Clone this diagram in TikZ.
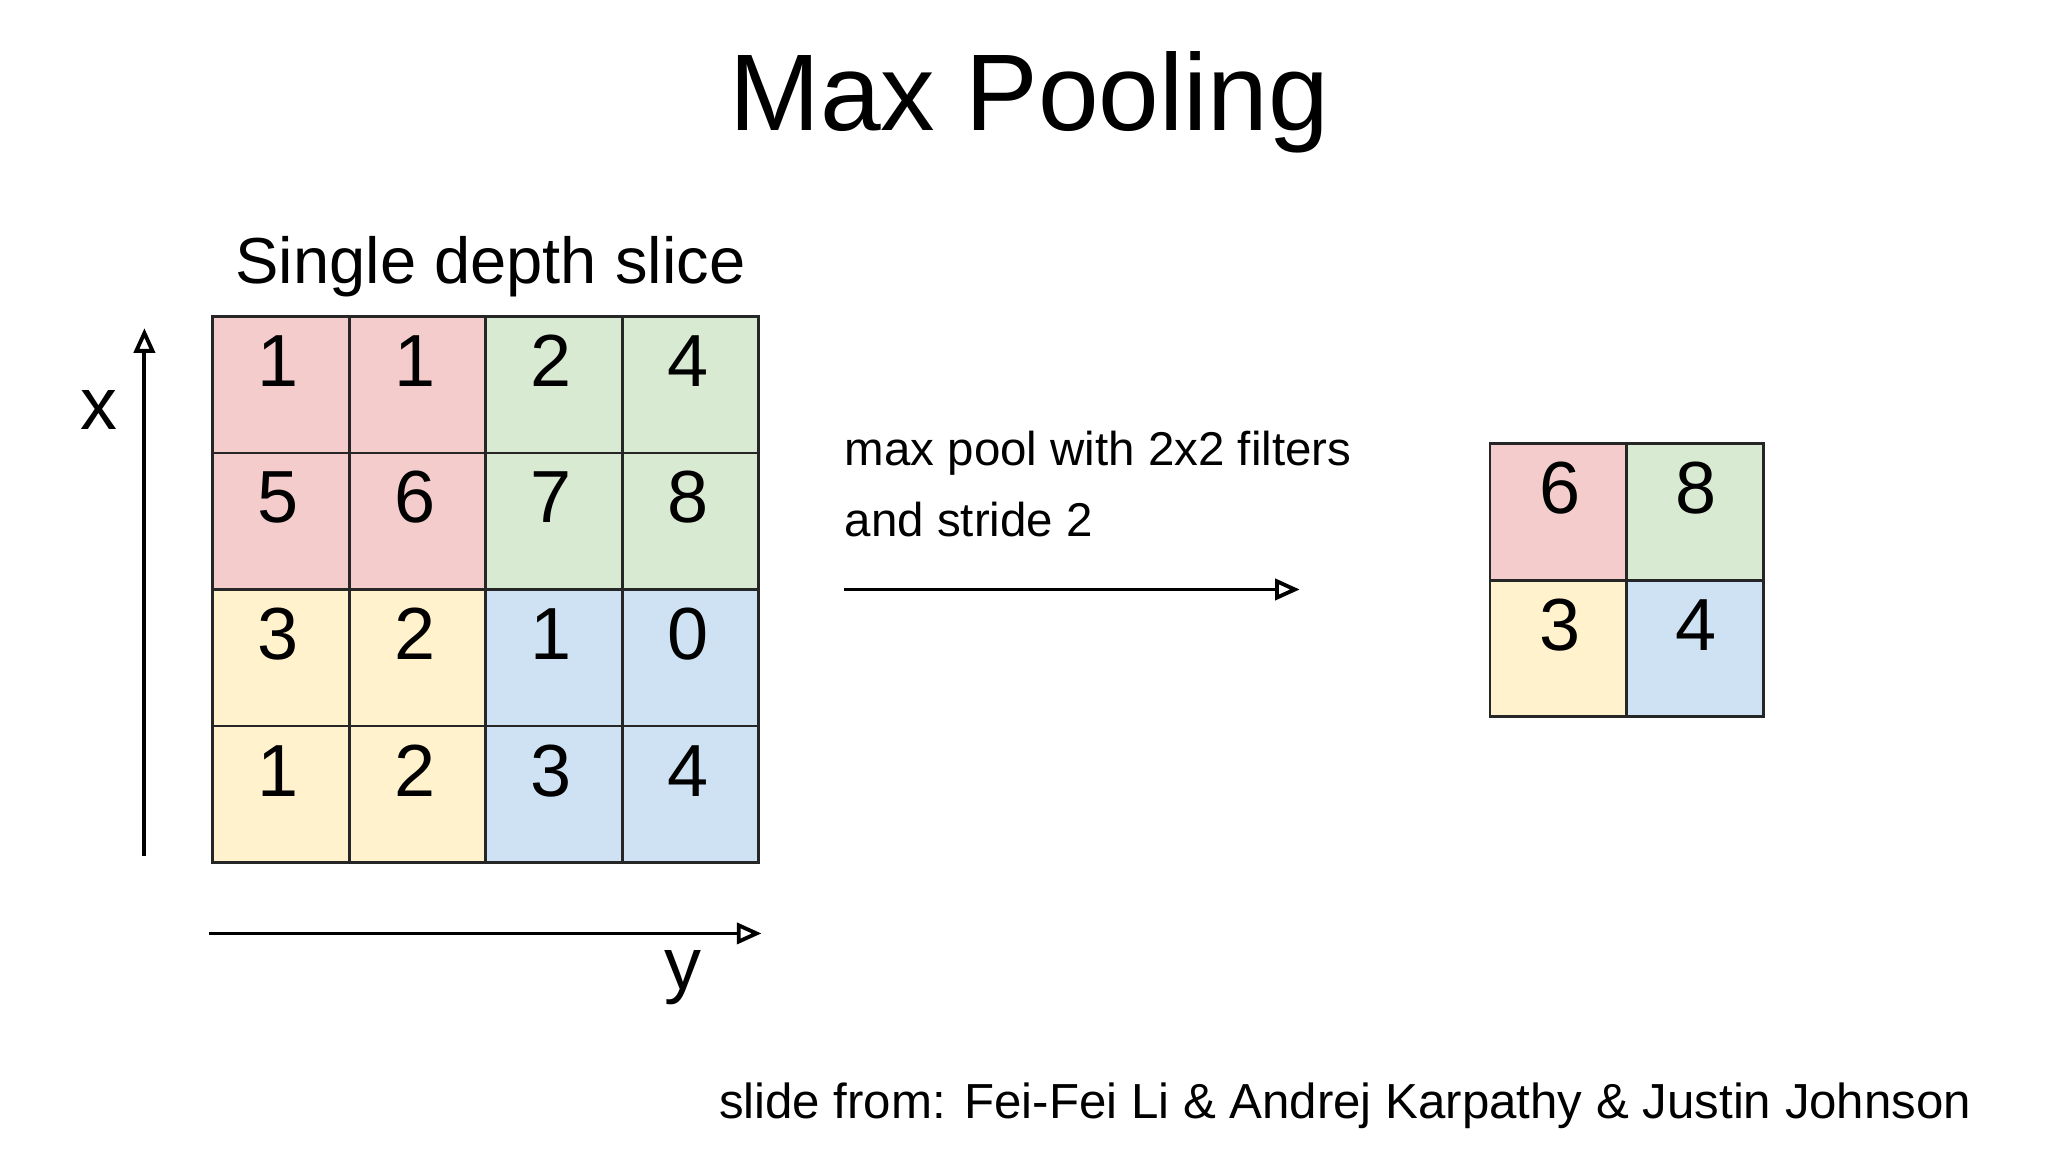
\documentclass[tikz,border=0pt]{standalone}
\usepackage{fontspec}
\setmainfont{Liberation Sans}
\usetikzlibrary{arrows.meta}
\definecolor{cpink}{HTML}{F4CCCC}
\definecolor{cgreen}{HTML}{D9EAD3}
\definecolor{cyel}{HTML}{FFF2CC}
\definecolor{cblue}{HTML}{CFE2F3}
\begin{document}
\begin{tikzpicture}[x=0.013128cm,y=-0.013128cm,
  cell/.style={draw=black!85,line width=0.8pt,minimum size=104*0.013128cm,inner sep=0pt,
    font=\fontsize{21}{21}\selectfont,text depth=0pt,anchor=center},
  arr/.style={line width=1.1pt,-{Triangle[open,length=7pt,width=6pt]}}]
\useasboundingbox (0,0) rectangle (1560,877.5);
\fill[white] (0,0) rectangle (1560,877.5);
\node[font=\fontsize{31}{31}\selectfont] (title) at (784,78) {Max Pooling};
\node[font=\fontsize{18.5}{18.5}\selectfont,anchor=west] (slice) at (170,203) {Single depth slice};
% input grid
\def\cellw{104}
\foreach \r/\c/\v/\col in {0/0/1/cpink,0/1/1/cpink,0/2/2/cgreen,0/3/4/cgreen,
  1/0/5/cpink,1/1/6/cpink,1/2/7/cgreen,1/3/8/cgreen,
  2/0/3/cyel,2/1/2/cyel,2/2/1/cblue,2/3/0/cblue,
  3/0/1/cyel,3/1/2/cyel,3/2/3/cblue,3/3/4/cblue}{
  \node[cell,fill=\col] (g\r\c) at ({162+52+104*\c},{241+52+104*\r}) {};
  \node[font=\fontsize{21}{21}\selectfont] at ({162+50+104*\c},{241+34+104*\r}) {\v};
}
\foreach \r/\c/\v/\col in {0/0/6/cpink,0/1/8/cgreen,1/0/3/cyel,1/1/4/cblue}{
  \node[cell,fill=\col] (o\r\c) at ({1135+52+104*\c},{338+52+104*\r}) {};
  \node[font=\fontsize{21}{21}\selectfont] at ({1135+53+104*\c},{338+34+104*\r}) {\v};
}
% axes
\coordinate (xa) at (110,652); \coordinate (xb) at (110,250);
\coordinate (ya) at (159,711); \coordinate (yb) at (580,711);
\draw[arr] (xa) -- (xb);
\draw[arr] (ya) -- (yb);
\node[font=\fontsize{21}{21}\selectfont] (xl) at (75,312) {x};
\node[font=\fontsize{21}{21}\selectfont] (yl) at (520,745) {y};
% middle
\node[font=\fontsize{13.5}{20}\selectfont,anchor=north west,align=left,inner sep=0pt] (lbl) at (643,328) {max pool with 2x2 filters\\and stride 2};
\coordinate (ma) at (643,449); \coordinate (mb) at (990,449);
\draw[arr] (ma) -- (mb);
\node[font=\fontsize{14}{14}\selectfont,anchor=east] (foot) at (1511,842) {slide from: Fei-Fei Li \& Andrej Karpathy \& Justin Johnson};
\end{tikzpicture}
\end{document}
